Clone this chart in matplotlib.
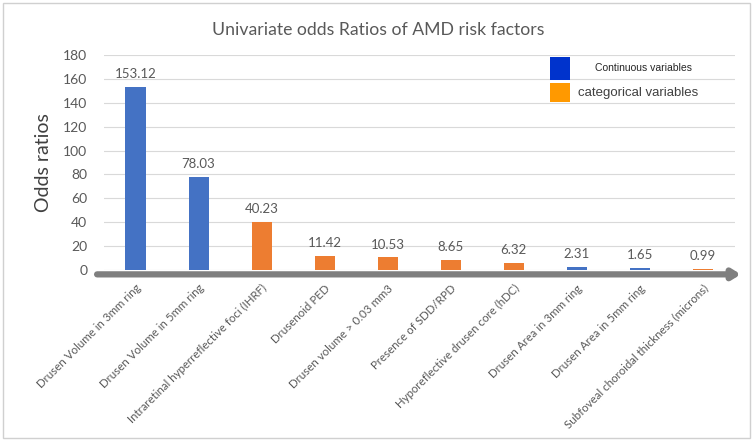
import matplotlib.pyplot as plt
from matplotlib.patches import Rectangle

categories = [
    "Drusen Volume in 3mm ring",
    "Drusen Volume in 5mm ring",
    "Intraretinal hyperreflective foci (IHRF)",
    "Drusenoid PED",
    "Drusen volume > 0.03 mm3",
    "Presence of SDD/RPD",
    "Hyporeflective drusen core (hDC)",
    "Drusen Area in 3mm ring",
    "Drusen Area in 5mm ring",
    "Subfoveal choroidal thickness (microns)",
]
odds = [153.12, 78.03, 40.23, 11.42, 10.53, 8.65, 6.32, 2.31, 1.65, 0.99]
kind = ["cont", "cont", "cat", "cat", "cat", "cat", "cat", "cont", "cont", "cat"]
yticks = [0, 20, 40, 60, 80, 100, 120, 140, 160, 180]
legend_labels = ["Continuous variables", "categorical variables"]

plt.rcParams["font.family"] = ["Lato", "DejaVu Sans"]

bar_colors = {"cont": "#4472C4", "cat": "#ED7D31"}
text_gray = "#595959"

fig = plt.figure(figsize=(7.56, 4.42), dpi=100)
ax = fig.add_axes([0.1376, 0.389, 0.834, 0.4866])

x = list(range(len(categories)))
ax.bar(x, odds, width=0.32, color=[bar_colors[k] for k in kind], zorder=3)
for xi, v in zip(x, odds):
    ax.annotate(f"{v:.2f}", (xi, v), xytext=(0, 5), textcoords="offset points",
                ha="center", va="bottom", fontsize=9.5, color=text_gray)

ax.set_xlim(-0.5, len(categories) - 0.5)
ax.set_ylim(0, 180)
ax.set_yticks(yticks)
ax.tick_params(axis="y", length=0, labelsize=10, labelcolor=text_gray, pad=12)
ax.grid(axis="y", color="#D9D9D9", linewidth=0.8, zorder=0)
for s in ax.spines.values():
    s.set_visible(False)

ax.set_xticks(x)
ax.set_xticklabels(categories, rotation=45, ha="right", rotation_mode="anchor",
                   fontsize=8.3, color=text_gray)
ax.tick_params(axis="x", length=0, pad=9)

ax.set_ylabel("Odds ratios", fontsize=14, color="#404040", labelpad=8)
fig.text(0.5, 0.932, "Univariate odds Ratios of AMD risk factors", ha="center",
         va="center", fontsize=12.7, color=text_gray)

# thick gray arrow along x axis
ax.annotate("", xy=(1.01, -0.02), xytext=(-0.011, -0.02),
            xycoords="axes fraction", textcoords="axes fraction",
            arrowprops=dict(arrowstyle="-|>,head_length=0.45,head_width=0.28",
                            color="#7F7F7F", lw=4.5, shrinkA=0, shrinkB=0),
            annotation_clip=False, zorder=5)

# legend drawn as swatches + text
fig.patches.append(Rectangle((0.7275, 0.819), 0.0265, 0.052, transform=fig.transFigure,
                             facecolor="#0033CC", edgecolor="none"))
fig.patches.append(Rectangle((0.7275, 0.769), 0.0265, 0.043, transform=fig.transFigure,
                             facecolor="#FF9900", edgecolor="none"))
fig.text(0.787, 0.846, legend_labels[0], fontsize=7.5, color="#262626",
         family="Liberation Sans", va="center")
fig.text(0.765, 0.790, legend_labels[1], fontsize=9.5, color="#404040",
         family="Liberation Sans", va="center")

fig.patches.append(Rectangle((0.004, 0.008), 0.988, 0.985, transform=fig.transFigure,
                             fill=False, edgecolor="#D0D0D0", linewidth=1))

fig.savefig("out.png", dpi=100)
